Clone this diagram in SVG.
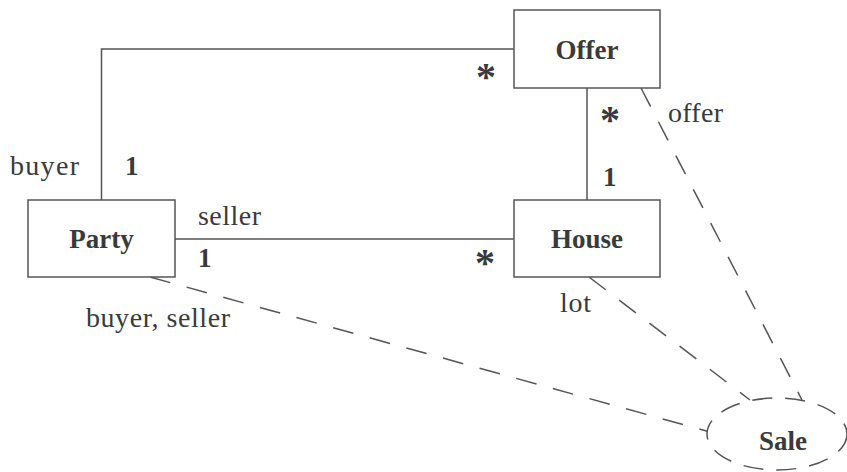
<svg xmlns="http://www.w3.org/2000/svg" width="847" height="472" viewBox="0 0 847 472">
<style>
.box{fill:#fff;stroke:#555;stroke-width:1.5}
.name{font-family:"Liberation Serif",serif;font-weight:bold;font-size:27px;fill:#3a3a3a;text-anchor:middle}
.lbl{font-family:"Liberation Serif",serif;font-size:28px;fill:#3a3a3a}
.mult{font-family:"Liberation Serif",serif;font-weight:bold;font-size:27px;fill:#3a3a3a}
.star{font-family:"Liberation Serif",serif;font-weight:bold;font-size:40px;fill:#3a3a3a;text-anchor:middle}
.solid{fill:none;stroke:#555;stroke-width:1.5}
.dash{fill:none;stroke:#555;stroke-width:1.5;stroke-dasharray:21 17}
.edash{fill:#fff;stroke:#555;stroke-width:1.5;stroke-dasharray:20 13}
</style>
<rect width="847" height="472" fill="#fff"/>
<g id="connectors">
<polyline class="solid" points="101.5,200 101.5,49 514,49"/>
<line class="solid" x1="175" y1="239" x2="514" y2="239"/>
<line class="solid" x1="587" y1="88" x2="587" y2="200"/>
<line class="dash" x1="150" y1="277" x2="710" y2="432"/>
<line class="dash" x1="589" y1="277" x2="750" y2="400"/>
<line class="dash" x1="641" y1="88" x2="802" y2="400"/>
<text class="lbl" x="10" y="175" textLength="69">buyer</text>
<text class="mult" x="125" y="175">1</text>
<text class="lbl" x="198" y="225" textLength="63">seller</text>
<text class="mult" x="198" y="267">1</text>
<text class="star" x="486" y="90">*</text>
<text class="star" x="610" y="133">*</text>
<text class="mult" x="603" y="186">1</text>
<text class="star" x="485" y="276">*</text>
<text class="lbl" x="668" y="122" textLength="55">offer</text>
<text class="lbl" x="560" y="312" textLength="31">lot</text>
<text class="lbl" x="86" y="327" textLength="144">buyer, seller</text>
</g>
<g id="party">
<rect class="box" x="28" y="200" width="147" height="77"/>
<text class="name" x="101.5" y="248">Party</text>
</g>
<g id="offer">
<rect class="box" x="514" y="10" width="146" height="78"/>
<text class="name" x="587" y="59">Offer</text>
</g>
<g id="house">
<rect class="box" x="514" y="200" width="146" height="77"/>
<text class="name" x="587" y="248">House</text>
</g>
<g id="sale">
<ellipse class="edash" cx="777" cy="434" rx="70" ry="36"/>
<text class="name" x="783" y="450">Sale</text>
</g>
</svg>
